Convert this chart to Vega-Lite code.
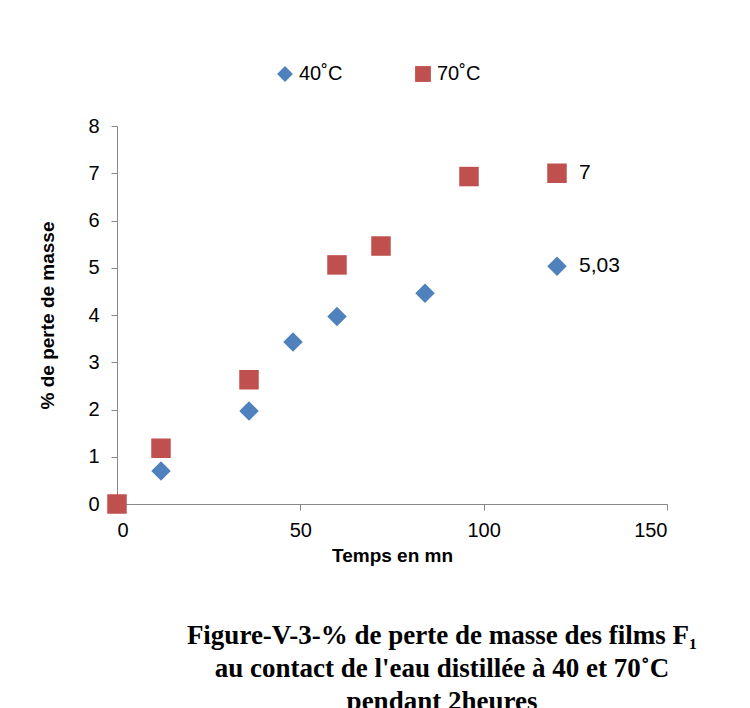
{
  "$schema": "https://vega.github.io/schema/vega-lite/v6.json",
  "autosize": "none",
  "width": 550,
  "height": 378,
  "padding": {"left": 117, "top": 126, "right": 83, "bottom": 204},
  "background": "white",
  "title": {
    "text": ["Figure-V-3-% de perte de masse des films F₁", "au contact de l'eau distillée à 40 et 70˚C", "pendant 2heures"],
    "orient": "bottom",
    "offset": 58,
    "dx": 50,
    "font": "Liberation Serif",
    "fontSize": 27,
    "fontWeight": "bold",
    "lineHeight": 33,
    "color": "black"
  },
  "data": {
    "values": [
      {"t": 0, "p": 0, "serie": "40˚C", "label": ""},
      {"t": 12, "p": 0.7, "serie": "40˚C", "label": ""},
      {"t": 36, "p": 1.97, "serie": "40˚C", "label": ""},
      {"t": 48, "p": 3.43, "serie": "40˚C", "label": ""},
      {"t": 60, "p": 3.97, "serie": "40˚C", "label": ""},
      {"t": 84, "p": 4.46, "serie": "40˚C", "label": ""},
      {"t": 120, "p": 5.03, "serie": "40˚C", "label": "5,03"},
      {"t": 0, "p": 0, "serie": "70˚C", "label": ""},
      {"t": 12, "p": 1.18, "serie": "70˚C", "label": ""},
      {"t": 36, "p": 2.63, "serie": "70˚C", "label": ""},
      {"t": 60, "p": 5.06, "serie": "70˚C", "label": ""},
      {"t": 72, "p": 5.46, "serie": "70˚C", "label": ""},
      {"t": 96, "p": 6.93, "serie": "70˚C", "label": ""},
      {"t": 120, "p": 7, "serie": "70˚C", "label": "7"}
    ]
  },
  "encoding": {
    "x": {
      "field": "t", "type": "quantitative",
      "scale": {"domain": [0, 150], "nice": false},
      "axis": {"values": [0, 50, 100, 150], "title": "Temps en mn", "grid": false, "labelPadding": 10, "titlePadding": 6}
    },
    "y": {
      "field": "p", "type": "quantitative",
      "scale": {"domain": [0, 8], "nice": false},
      "axis": {"values": [0, 1, 2, 3, 4, 5, 6, 7, 8], "title": "% de perte de masse", "grid": false, "labelPadding": 12, "titlePadding": 30}
    }
  },
  "layer": [
    {
      "mark": {"type": "point", "filled": true, "opacity": 1, "size": 380},
      "encoding": {
        "shape": {"field": "serie", "type": "nominal", "scale": {"domain": ["40˚C", "70˚C"], "range": ["diamond", "square"]}},
        "color": {"field": "serie", "type": "nominal", "scale": {"domain": ["40˚C", "70˚C"], "range": ["#4F81BD", "#C0504D"]}}
      }
    },
    {
      "transform": [{"filter": "datum.label != ''"}],
      "mark": {"type": "text", "align": "left", "dx": 22, "fontSize": 21, "font": "Liberation Sans", "color": "black"},
      "encoding": {"text": {"field": "label"}}
    }
  ],
  "config": {
    "view": {"stroke": null},
    "font": "Liberation Sans",
    "axis": {"labelFontSize": 20, "titleFontSize": 19, "labelColor": "black", "titleColor": "black", "domainColor": "#888", "tickColor": "#888", "tickSize": 6, "titleFont": "Liberation Sans", "titleFontWeight": "bold"},
    "legend": {"orient": "none", "legendX": 158, "legendY": -62, "direction": "horizontal", "title": null, "labelFontSize": 20, "labelColor": "black", "columnPadding": 70, "symbolSize": 250, "labelOffset": 4}
  }
}
